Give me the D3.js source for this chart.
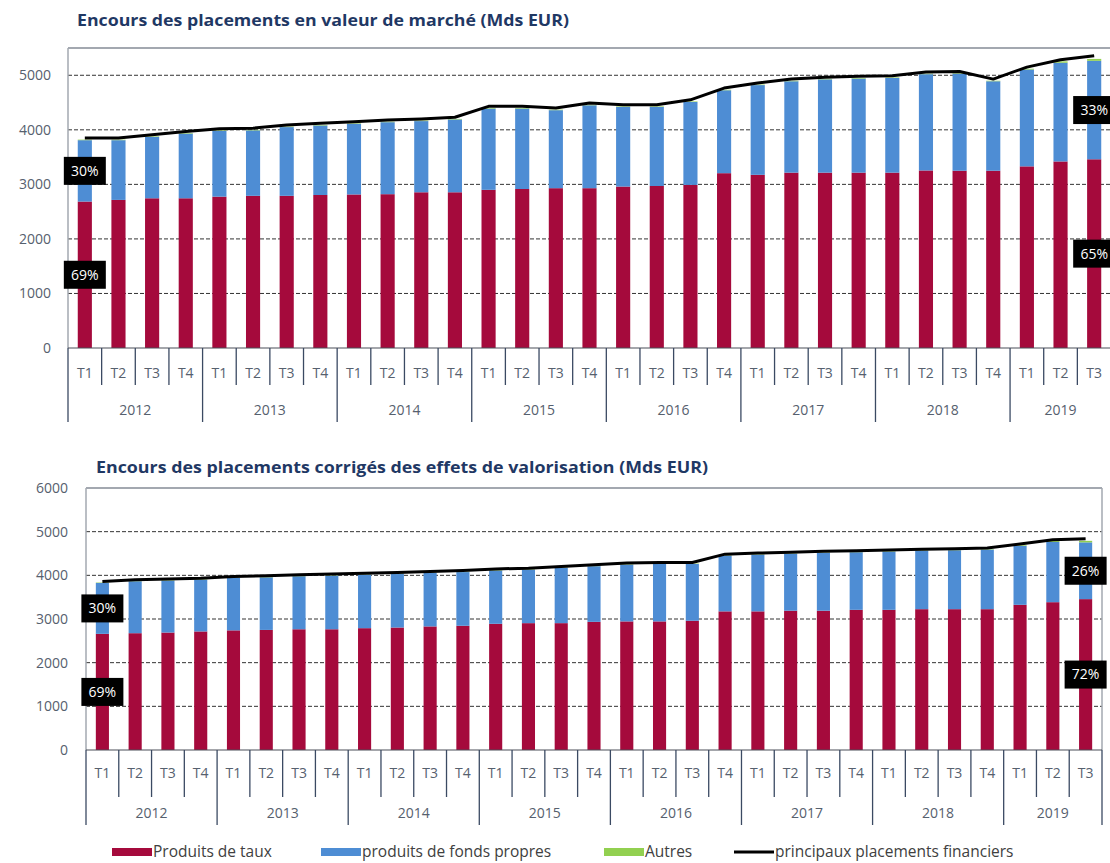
<!DOCTYPE html>
<html>
<head>
<meta charset="utf-8">
<script src="https://cdn.jsdelivr.net/npm/d3@7"></script>
<style>
  body { margin: 0; background: #fff; }
  svg { display: block; font-family: "Open Sans", Lato, sans-serif; }
</style>
</head>
<body>
<svg id="chart" width="1110" height="863"></svg>
<script>
// categories
const years = ["2012", "2013", "2014", "2015", "2016", "2017", "2018", "2019"];
const quartersPerYear = [4, 4, 4, 4, 4, 4, 4, 3];
const quarters = ["T1","T2","T3","T4", "T1","T2","T3","T4", "T1","T2","T3","T4", "T1","T2","T3","T4",
                  "T1","T2","T3","T4", "T1","T2","T3","T4", "T1","T2","T3","T4", "T1","T2","T3"];

// top chart: market value (Mds EUR)
const marketTaux = [2685,2715,2745,2745,2775,2790,2790,2805,2815,2820,2855,2855,2900,2915,2930,2930,
                    2960,2970,2990,3205,3175,3215,3215,3215,3215,3255,3250,3250,3330,3420,3460];
const marketFonds = [1125,1095,1125,1185,1205,1200,1260,1275,1295,1320,1305,1335,1490,1475,1430,1520,
                     1460,1450,1520,1520,1645,1675,1710,1725,1735,1765,1780,1640,1775,1810,1805];
const marketAutres = [10,10,10,10,10,10,10,10,10,10,10,10,10,10,10,10,10,10,10,10,10,10,10,10,10,10,10,10,15,25,35];
const marketTotal = [3850,3850,3910,3970,4020,4030,4090,4120,4150,4180,4200,4230,4430,4430,4400,4490,
                     4460,4460,4550,4765,4860,4930,4965,4980,4990,5060,5070,4930,5150,5285,5360];
const marketShares = [{ i: 0, key: "fonds", text: "30%" }, { i: 0, key: "taux", text: "69%" },
                      { i: 30, key: "fonds", text: "33%" }, { i: 30, key: "taux", text: "65%" }];

// bottom chart: corrected for valuation effects (Mds EUR)
const corrTaux = [2660,2675,2690,2715,2740,2750,2765,2765,2790,2805,2830,2845,2890,2905,2905,2935,
                  2945,2945,2960,3175,3175,3190,3190,3210,3210,3225,3225,3225,3325,3385,3455];
const corrFonds = [1165,1190,1190,1185,1200,1205,1215,1230,1225,1225,1225,1230,1220,1225,1265,1275,
                   1300,1315,1300,1275,1300,1305,1325,1320,1335,1340,1350,1365,1350,1380,1300];
const corrAutres = [10,10,10,10,10,10,10,10,10,10,10,10,10,10,10,10,10,10,10,10,10,10,10,10,10,10,10,10,15,25,35];
const corrTotal = [3860,3900,3915,3935,3975,3990,4015,4030,4050,4065,4090,4110,4145,4165,4205,4245,
                   4280,4295,4295,4485,4510,4530,4550,4565,4580,4600,4610,4625,4715,4815,4840];
const corrShares = [{ i: 0, key: "fonds", text: "30%" }, { i: 0, key: "taux", text: "69%" },
                    { i: 30, key: "fonds", text: "26%" }, { i: 30, key: "taux", text: "72%" }];

const legendItems = ["Produits de taux", "produits de fonds propres", "Autres", "principaux placements financiers"];

const colorTaux = "#A50A3C", colorFonds = "#4E8DD4", colorAutres = "#92D050", colorLine = "#000";
const TITLE_COLOR = "#1F3864", LABEL_COLOR = "#56606e", SEP_COLOR = "#3b4a63";

const svg = d3.select("#chart");

function drawPanel(cfg) {
  const n = quarters.length;
  const x = d3.scaleBand().domain(d3.range(n)).range([cfg.left, cfg.right])
    .paddingInner(cfg.pad).paddingOuter(cfg.pad / 2);
  const y = d3.scaleLinear().domain([0, cfg.yMax]).range([cfg.bottom, cfg.top]);
  const g = svg.append("g");

  // title
  g.append("text").attr("x", cfg.titleX).attr("y", cfg.titleY)
    .attr("font-size", 16).attr("font-weight", "bold").attr("fill", TITLE_COLOR)
    .attr("textLength", cfg.titleW).attr("lengthAdjust", "spacingAndGlyphs")
    .text(cfg.title);

  // dashed gridlines
  g.append("g").selectAll("line").data(cfg.grid).join("line")
    .attr("x1", cfg.left).attr("x2", cfg.right)
    .attr("y1", d => y(d)).attr("y2", d => y(d))
    .attr("stroke", "#333").attr("stroke-width", 1).attr("stroke-dasharray", "4,2");

  // stacked bars
  const rows = quarters.map((q, i) => ({ i: i, taux: cfg.taux[i], fonds: cfg.fonds[i], autres: cfg.autres[i] }));
  const series = d3.stack().keys(["taux", "fonds", "autres"])(rows);
  const colors = { taux: colorTaux, fonds: colorFonds, autres: colorAutres };
  g.append("g").selectAll("g").data(series).join("g")
    .attr("fill", s => colors[s.key])
    .selectAll("rect").data(s => s).join("rect")
    .attr("x", d => x(d.data.i)).attr("width", x.bandwidth())
    .attr("y", d => y(d[1])).attr("height", d => y(d[0]) - y(d[1]));

  // frame
  g.append("line").attr("x1", cfg.left).attr("x2", cfg.right).attr("y1", cfg.top).attr("y2", cfg.top)
    .attr("stroke", "#a3a8b0").attr("stroke-width", 2);
  g.append("line").attr("x1", cfg.left).attr("x2", cfg.left).attr("y1", cfg.top).attr("y2", cfg.bottom)
    .attr("stroke", "#a3a8b0").attr("stroke-width", 1.5);
  g.append("line").attr("x1", cfg.right).attr("x2", cfg.right).attr("y1", cfg.top).attr("y2", cfg.bottom)
    .attr("stroke", "#a3a8b0").attr("stroke-width", 1.5);
  g.append("line").attr("x1", cfg.left).attr("x2", cfg.right).attr("y1", cfg.bottom).attr("y2", cfg.bottom)
    .attr("stroke", "#4a4f58").attr("stroke-width", 1.2);

  // total line
  g.append("path").datum(cfg.total)
    .attr("fill", "none").attr("stroke", colorLine).attr("stroke-width", 3)
    .attr("stroke-linejoin", "round")
    .attr("d", d3.line().x((d, i) => x(i) + x.bandwidth() / 2).y(d => y(d)));

  // y axis
  const yAx = g.append("g").attr("transform", "translate(" + cfg.left + ",0)")
    .call(d3.axisLeft(y).tickValues(cfg.ticks).tickSize(0).tickPadding(cfg.yPad).tickFormat(d3.format("d")));
  yAx.select(".domain").remove();
  yAx.selectAll("text").attr("font-size", 14).attr("fill", LABEL_COLOR).attr("font-family", "\"Open Sans\", sans-serif");

  // quarter labels
  g.append("g").selectAll("text").data(quarters).join("text")
    .attr("x", (d, i) => x(i) + x.bandwidth() / 2).attr("y", cfg.bottom + cfg.qLabelDy)
    .attr("text-anchor", "middle").attr("font-size", 14).attr("fill", LABEL_COLOR)
    .text(d => d);

  // separators
  const step = x.step();
  const yearStarts = [0];
  quartersPerYear.forEach((c, k) => yearStarts.push(yearStarts[k] + c));
  g.append("g").selectAll("line").data(d3.range(n + 1)).join("line")
    .attr("x1", k => cfg.left + k * step).attr("x2", k => cfg.left + k * step)
    .attr("y1", cfg.bottom)
    .attr("y2", k => cfg.bottom + (yearStarts.includes(k) ? cfg.yearSep : cfg.qSep))
    .attr("stroke", SEP_COLOR).attr("stroke-width", 1.3);

  // year labels
  g.append("g").selectAll("text").data(years).join("text")
    .attr("x", (d, k) => cfg.left + (yearStarts[k] + quartersPerYear[k] / 2) * step)
    .attr("y", cfg.bottom + cfg.yLabelDy)
    .attr("text-anchor", "middle").attr("font-size", 14).attr("fill", LABEL_COLOR)
    .text(d => d);

  // share labels
  const lab = g.append("g").selectAll("g").data(cfg.shares).join("g")
    .attr("transform", d => {
      const s = series.find(t => t.key === d.key)[d.i];
      return "translate(" + (x(d.i) + x.bandwidth() / 2) + "," + y((s[0] + s[1]) / 2) + ")";
    });
  lab.append("rect").attr("x", -21).attr("y", -14).attr("width", 42).attr("height", 28).attr("fill", "#000");
  lab.append("text").attr("text-anchor", "middle").attr("dy", "0.35em")
    .attr("font-size", 14).attr("fill", "#fff").text(d => d.text);
}

drawPanel({
  title: "Encours des placements en valeur de marché (Mds EUR)", titleX: 77, titleY: 26, titleW: 492,
  left: 68, right: 1111, top: 48, bottom: 348, yMax: 5500, pad: 0.58, yPad: 17,
  ticks: [0, 1000, 2000, 3000, 4000, 5000], grid: [1000, 2000, 3000, 4000, 5000],
  taux: marketTaux, fonds: marketFonds, autres: marketAutres, total: marketTotal, shares: marketShares,
  qLabelDy: 30, yLabelDy: 67, qSep: 37, yearSep: 74
});

drawPanel({
  title: "Encours des placements corrigés des effets de valorisation (Mds EUR)", titleX: 96, titleY: 473, titleW: 612,
  left: 86, right: 1102, top: 488, bottom: 750, yMax: 6000, pad: 0.6, yPad: 18,
  ticks: [0, 1000, 2000, 3000, 4000, 5000, 6000], grid: [1000, 2000, 3000, 4000, 5000],
  taux: corrTaux, fonds: corrFonds, autres: corrAutres, total: corrTotal, shares: corrShares,
  qLabelDy: 28, yLabelDy: 68, qSep: 47, yearSep: 75
});

// legend
const legendX = [112, 321, 604, 734];
const legendColors = [colorTaux, colorFonds, colorAutres, colorLine];
const lg = svg.append("g").selectAll("g").data(legendItems).join("g")
  .attr("transform", (d, i) => "translate(" + legendX[i] + ",852)");
lg.append("rect").attr("x", 0).attr("width", 40)
  .attr("y", (d, i) => i === 3 ? -1.5 : -4).attr("height", (d, i) => i === 3 ? 3 : 8)
  .attr("fill", (d, i) => legendColors[i]);
lg.append("text").attr("x", 41).attr("dy", "0.35em").attr("font-size", 15.5).attr("fill", "#404040")
  .text(d => d);
</script>
</body>
</html>
